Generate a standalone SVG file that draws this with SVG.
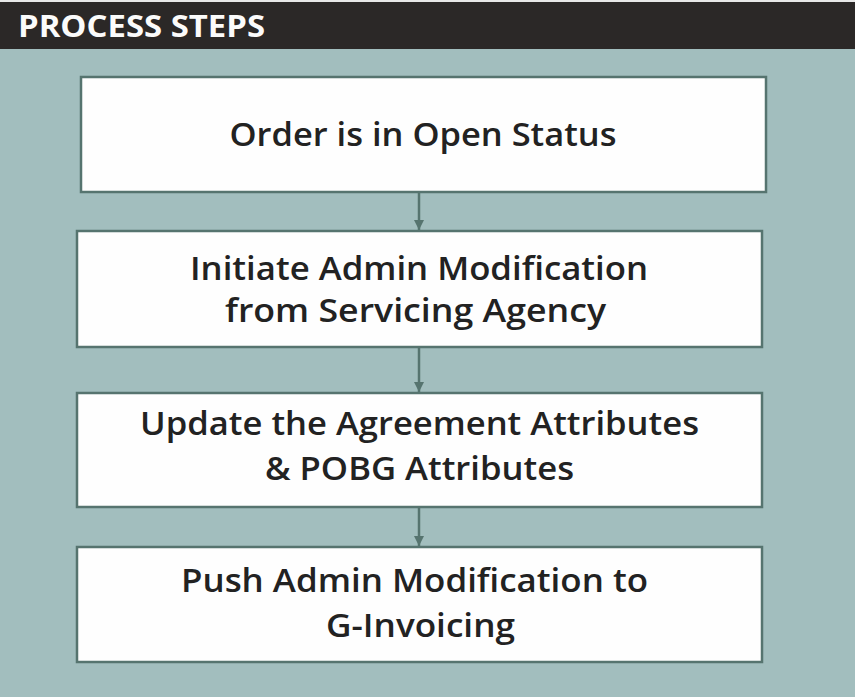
<svg xmlns="http://www.w3.org/2000/svg" width="855" height="697" viewBox="0 0 855 697">
<style>
.box{fill:#fefefe;stroke:#56746f;stroke-width:2.5}
.t{font-family:"Open Sans","Liberation Sans",sans-serif;font-weight:600;font-size:33px;fill:#222;text-anchor:middle}
.h{font-family:"Open Sans","Liberation Sans",sans-serif;font-weight:700;font-size:31px;fill:#fbfbfb}
.c{stroke:#56746f;stroke-width:2.5;fill:none}
</style>
<defs>
<marker id="ah" viewBox="0 0 10 10" refX="10" refY="5" markerWidth="4" markerHeight="4" orient="auto" markerUnits="strokeWidth">
<path d="M0,0 L10,5 L0,10 z" fill="#56746f"/>
</marker>
</defs>
<rect x="0" y="0" width="855" height="697" fill="#a2bebe"/>
<rect x="0" y="0" width="855" height="2" fill="#e8e8e8"/>
<rect x="0" y="2" width="855" height="47" fill="#2b2827"/>
<text class="h" x="18" y="37" textLength="247" lengthAdjust="spacingAndGlyphs">PROCESS STEPS</text>
<g id="connectors">
<line class="c" x1="419" y1="193" x2="419" y2="230" marker-end="url(#ah)"/>
<line class="c" x1="419" y1="348" x2="419" y2="392" marker-end="url(#ah)"/>
<line class="c" x1="419" y1="508" x2="419" y2="546" marker-end="url(#ah)"/>
</g>
<g id="n1">
<rect class="box" x="81" y="77" width="685" height="115"/>
<text class="t" x="423" y="146" textLength="387" lengthAdjust="spacingAndGlyphs">Order is in Open Status</text>
</g>
<g id="n2">
<rect class="box" x="77" y="231" width="685" height="116"/>
<text class="t" x="419" y="280" textLength="458" lengthAdjust="spacingAndGlyphs">Initiate Admin Modification</text>
<text class="t" x="415.5" y="322" textLength="381" lengthAdjust="spacingAndGlyphs">from Servicing Agency</text>
</g>
<g id="n3">
<rect class="box" x="77" y="393" width="685" height="114"/>
<text class="t" x="419.5" y="435" textLength="559" lengthAdjust="spacingAndGlyphs">Update the Agreement Attributes</text>
<text class="t" x="419.5" y="480" textLength="309" lengthAdjust="spacingAndGlyphs">&amp; POBG Attributes</text>
</g>
<g id="n4">
<rect class="box" x="77" y="547" width="685" height="115"/>
<text class="t" x="414.5" y="592" textLength="467" lengthAdjust="spacingAndGlyphs">Push Admin Modification to</text>
<text class="t" x="420.5" y="637" textLength="189" lengthAdjust="spacingAndGlyphs">G-Invoicing</text>
</g>
</svg>
